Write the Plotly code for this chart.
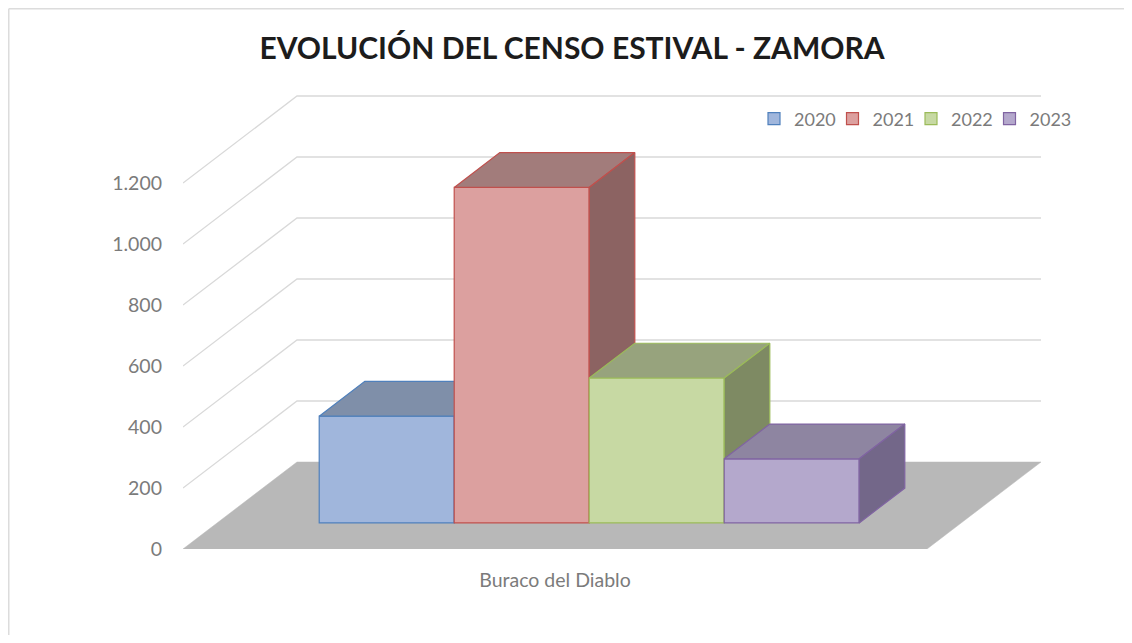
import plotly.graph_objects as go

# ---------------- data ----------------
CATEGORIES = ["Buraco del Diablo"]
YEARS = ["2020", "2021", "2022", "2023"]
VALUES = [350, 1100, 475, 210]
Y_TICKS = [0, 200, 400, 600, 800, 1000, 1200]

FRONT = ["#a0b6dc", "#dca09f", "#c7d9a3", "#b4a8cc"]
EDGE = ["#4f80bc", "#c0504d", "#9bbb59", "#8064a2"]
TOP = ["#7f8fa9", "#a27c7b", "#97a37d", "#8e85a1"]
SIDE = ["#6b7b96", "#8c6362", "#7e8a63", "#736789"]

# ---------------- layout geometry (pixels) ----------------
OFF = 8                      # browser default body margin
FIG_W, FIG_H = 1132 - 2 * OFF, 643 - 2 * OFF
L, W = 183 - OFF, 858
T, BOT = 80 - OFF, 549 - OFF
H = BOT - T
PXU = 135.0            # px per bar-width unit
PYU = 0.305            # px per value unit
DX = 114.0 / PXU       # full-depth shift (x units)
DY = 87.0 / PYU        # full-depth shift (value units)
BAR_D0, BAR_D = 0.3, 0.4   # bar front-plane depth and bar depth
G = 0.7556             # floor overhang each side of bars

xmin = -0.5 - G
xmax = xmin + W / PXU
ymin, ymax = 0.0, H / PYU
xfl0, xfl1 = xmin, len(VALUES) - 0.5 + G

fig = go.Figure()

# floor
fig.add_trace(go.Scatter(
    x=[xfl0, xfl1, xfl1 + DX, xfl0 + DX, xfl0],
    y=[0, 0, DY, DY, 0],
    fill="toself", fillcolor="#b8b8b8", mode="lines",
    line=dict(color="#b8b8b8", width=0.5),
    hoverinfo="skip", showlegend=False))

# side wall diagonals and back wall gridlines
for v in Y_TICKS[1:]:
    fig.add_trace(go.Scatter(
        x=[xfl0, xfl0 + DX, xfl1 + DX], y=[v, v + DY, v + DY],
        mode="lines", line=dict(color="#d9d9d9", width=1.3),
        hoverinfo="skip", showlegend=False))

FONT = "Lato, 'Open Sans', sans-serif"
GRAY = "#7b7b7b"

LEG_X0 = 754 - OFF - L       # legend start (px in plot coords)
LEG_STEP = 78.5              # px between legend entries

layout_legends = {}
# bars: each in its own overlaid subplot so that drawing order mimics 3D
for i, (yr, v) in enumerate(zip(YEARS, VALUES)):
    k = i + 2
    xa, ya = f"x{k}", f"y{k}"
    leg = "legend" if i == 0 else f"legend{i + 1}"
    layout_legends[leg] = dict(
        orientation="h", x=(LEG_X0 + i * LEG_STEP) / W, xanchor="left",
        y=(BOT - (119 - OFF)) / H, yanchor="middle",
        font=dict(family=FONT, size=18, color=GRAY),
        bgcolor="rgba(0,0,0,0)", itemwidth=30)
    dxb, dyb = BAR_D * DX, BAR_D * DY
    fig.add_trace(go.Bar(
        x=[i], y=[v], width=1, name=yr, xaxis=xa, yaxis=ya, legend=leg,
        marker=dict(color=FRONT[i], line=dict(color=EDGE[i], width=1.2)),
        hoverinfo="skip", showlegend=True))
    # top face
    fig.add_trace(go.Scatter(
        x=[i - 0.5, i + 0.5, i + 0.5 + dxb, i - 0.5 + dxb, i - 0.5],
        y=[v, v, v + dyb, v + dyb, v],
        fill="toself", fillcolor=TOP[i], mode="lines",
        line=dict(color=EDGE[i], width=1.2), xaxis=xa, yaxis=ya,
        hoverinfo="skip", showlegend=False))
    # right side face
    fig.add_trace(go.Scatter(
        x=[i + 0.5, i + 0.5, i + 0.5 + dxb, i + 0.5 + dxb, i + 0.5],
        y=[0, v, v + dyb, dyb, 0],
        fill="toself", fillcolor=SIDE[i], mode="lines",
        line=dict(color=EDGE[i], width=1.2), xaxis=xa, yaxis=ya,
        hoverinfo="skip", showlegend=False))

layout = dict(
    width=FIG_W, height=FIG_H,
    margin=dict(l=L, r=FIG_W - L - W, t=T, b=FIG_H - BOT),
    paper_bgcolor="white", plot_bgcolor="rgba(0,0,0,0)",
    separators=",.",
    showlegend=True,
    title=dict(text="<b>EVOLUCIÓN DEL CENSO ESTIVAL - ZAMORA</b>",
               x=(572 - OFF) / FIG_W, xref="container", xanchor="center",
               y=1 - (48 - OFF) / FIG_H, yref="container", yanchor="middle",
               font=dict(family=FONT, size=30, color="#1c1c1c")),
    xaxis=dict(range=[xmin, xmax], tickvals=[(len(VALUES) - 1) / 2],
               ticktext=CATEGORIES, showgrid=False, zeroline=False,
               showline=False, ticks="", ticklabelstandoff=17,
               tickfont=dict(family=FONT, size=19.5, color=GRAY), fixedrange=True),
    yaxis=dict(range=[ymin, ymax], tickvals=Y_TICKS, tickformat=",d",
               showgrid=False, zeroline=False, showline=False, ticks="",
               ticklabelstandoff=20,
               tickfont=dict(family=FONT, size=19.5, color=GRAY), fixedrange=True),
    barmode="overlay",
    shapes=[
        dict(type="line", xref="paper", yref="paper",
             x0=(0.75 - L) / W, x1=(FIG_W - L) / W,
             y0=(BOT - 0.75) / H, y1=(BOT - 0.75) / H,
             line=dict(color="#dcdcdc", width=1.5)),
        dict(type="line", xref="paper", yref="paper",
             x0=(0.75 - L) / W, x1=(0.75 - L) / W,
             y0=(BOT - 0.75) / H, y1=(BOT - FIG_H) / H,
             line=dict(color="#dcdcdc", width=1.5)),
    ],
)
layout.update(layout_legends)
for i in range(len(VALUES)):
    k = i + 2
    layout[f"xaxis{k}"] = dict(range=[xmin - BAR_D0 * DX, xmax - BAR_D0 * DX],
                               overlaying="x", visible=False, fixedrange=True)
    layout[f"yaxis{k}"] = dict(range=[ymin - BAR_D0 * DY, ymax - BAR_D0 * DY],
                               overlaying="y", visible=False, fixedrange=True)

fig.update_layout(**layout)
fig.write_html("out.html")
